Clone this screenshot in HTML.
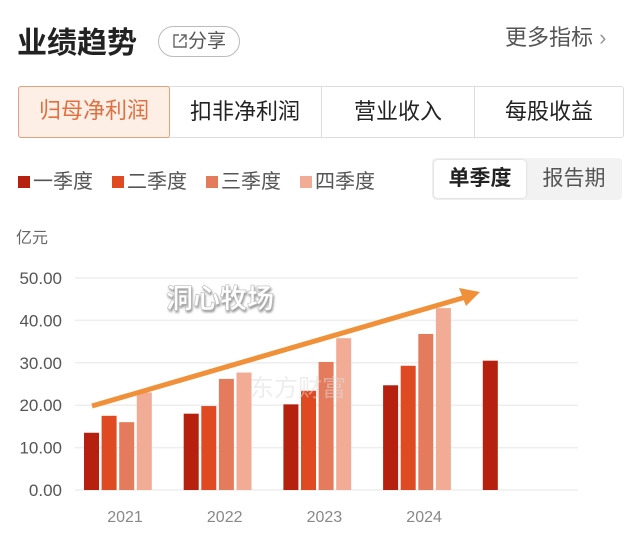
<!DOCTYPE html>
<html><head><meta charset="utf-8"><style>
body{margin:0;width:640px;height:555px;background:#fff;font-family:"Liberation Sans","Noto Sans CJK SC",sans-serif;position:relative;overflow:hidden}
.abs{position:absolute}
</style></head><body>
<div class="abs" style="left:17px;top:18px;font-size:30px;font-weight:bold;color:#222">业绩趋势</div>
<div class="abs" style="left:158px;top:26px;width:80px;height:29px;border:1.5px solid #bbb;border-radius:16px;font-size:19px;color:#555;line-height:29px;text-align:center">
<svg width="16" height="16" viewBox="0 0 16 16" style="vertical-align:-2px"><path d="M7 2H2v12h12V9M9 2h5v5M14 2L7 9" fill="none" stroke="#666" stroke-width="1.4"/></svg>分享</div>
<div class="abs" style="left:505px;top:20px;font-size:22px;color:#555">更多指标 <span style="color:#999">›</span></div>
<div class="abs" style="left:18px;top:86px;width:604px;height:50px;border:1px solid #ddd;border-radius:3px;display:flex;font-size:22px;color:#222">
<div style="width:150px;background:#fdeee6;border:1px solid #e8a17f;color:#e0703f;text-align:center;line-height:48px;margin:-1px;border-radius:3px">归母净利润</div>
<div style="width:152px;text-align:center;line-height:50px;border-right:1px solid #ddd">扣非净利润</div>
<div style="width:152px;text-align:center;line-height:50px;border-right:1px solid #ddd">营业收入</div>
<div style="flex:1;text-align:center;line-height:50px">每股收益</div>
</div>
<div class="abs" style="left:18px;top:165px;font-size:20px;color:#555;display:flex;gap:19px">
<span><i style="display:inline-block;width:12px;height:12px;background:#b5200f;margin-right:3px"></i>一季度</span>
<span><i style="display:inline-block;width:12px;height:12px;background:#e04a22;margin-right:3px"></i>二季度</span>
<span><i style="display:inline-block;width:12px;height:12px;background:#e57b5d;margin-right:3px"></i>三季度</span>
<span><i style="display:inline-block;width:12px;height:12px;background:#f2ab94;margin-right:3px"></i>四季度</span>
</div>
<div class="abs" style="left:432px;top:158px;width:190px;height:42px;background:#f2f2f2;border-radius:4px;font-size:21px">
<div class="abs" style="left:2px;top:2px;width:92px;height:38px;background:#fff;border-radius:4px;text-align:center;line-height:38px;font-weight:bold;color:#222;box-shadow:0 0 2px #ccc">单季度</div>
<div class="abs" style="left:96px;top:2px;width:92px;height:38px;text-align:center;line-height:38px;color:#555">报告期</div>
</div>
<svg class="abs" style="left:0;top:0" width="640" height="555" id="chart">
<text x="16" y="243" font-size="16" fill="#666">亿元</text>
</svg>
<script>
const years=["2021","2022","2023","2024",""];
const q1=[13.5,18.0,20.2,24.7,30.5];
const q2=[17.5,19.8,23.4,29.3,null];
const q3=[16.0,26.2,30.2,36.8,null];
const q4=[23.0,27.7,35.8,42.9,null];
const yTicks=[0,10,20,30,40,50];
const NS="http://www.w3.org/2000/svg";
const svg=document.getElementById('chart');
const y=v=>490-v*(212/50);
const gx=i=>84+i*99.7;
function mk(t,a){const e=document.createElementNS(NS,t);for(const k in a)e.setAttribute(k,a[k]);svg.appendChild(e);return e;}
yTicks.forEach(t=>{
 const l=mk('line',{x1:75,x2:578,y1:y(t),y2:y(t),stroke:'#eee','stroke-width':1.5});
 
 
 const tx=mk('text',{x:62,y:y(t)+6,'font-size':17,fill:'#555','text-anchor':'end'});
 tx.textContent=t.toFixed(2);
 
 
});
const series=[q1,q2,q3,q4],cols=['#b5200f','#e04a22','#e57b5d','#f2ab94'];
series.forEach((s,si)=>s.forEach((v,i)=>{
 if(v==null)return;
 const r=mk('rect',{x:gx(i)+si*17.6,y:y(v),width:15,height:490-y(v),fill:cols[si]});
 
 
}));
years.forEach((yr,i)=>{if(!yr)return;
 const t=mk('text',{x:gx(i)+41,y:522,'font-size':16,fill:'#888','text-anchor':'middle'});
 t.textContent=yr;
 
 
});
const wm=mk('text',{x:250,y:396,'font-size':24,fill:'#ddd','opacity':0.5});
wm.textContent='东方财富';


const ar=mk('line',{x1:92,y1:406,x2:466,y2:297,stroke:'#f0913a','stroke-width':5});


const ah=mk('polygon',{points:'480,292 459,288 466,306',fill:'#f0913a'});


const lb=mk('text',{x:166,y:308,'font-size':27,'font-weight':'bold',fill:'#fff',stroke:'#bbb','stroke-width':0.6,style:'filter:drop-shadow(1px 2px 1px #999)'});
lb.textContent='洞心牧场';


</script>
</body></html>
